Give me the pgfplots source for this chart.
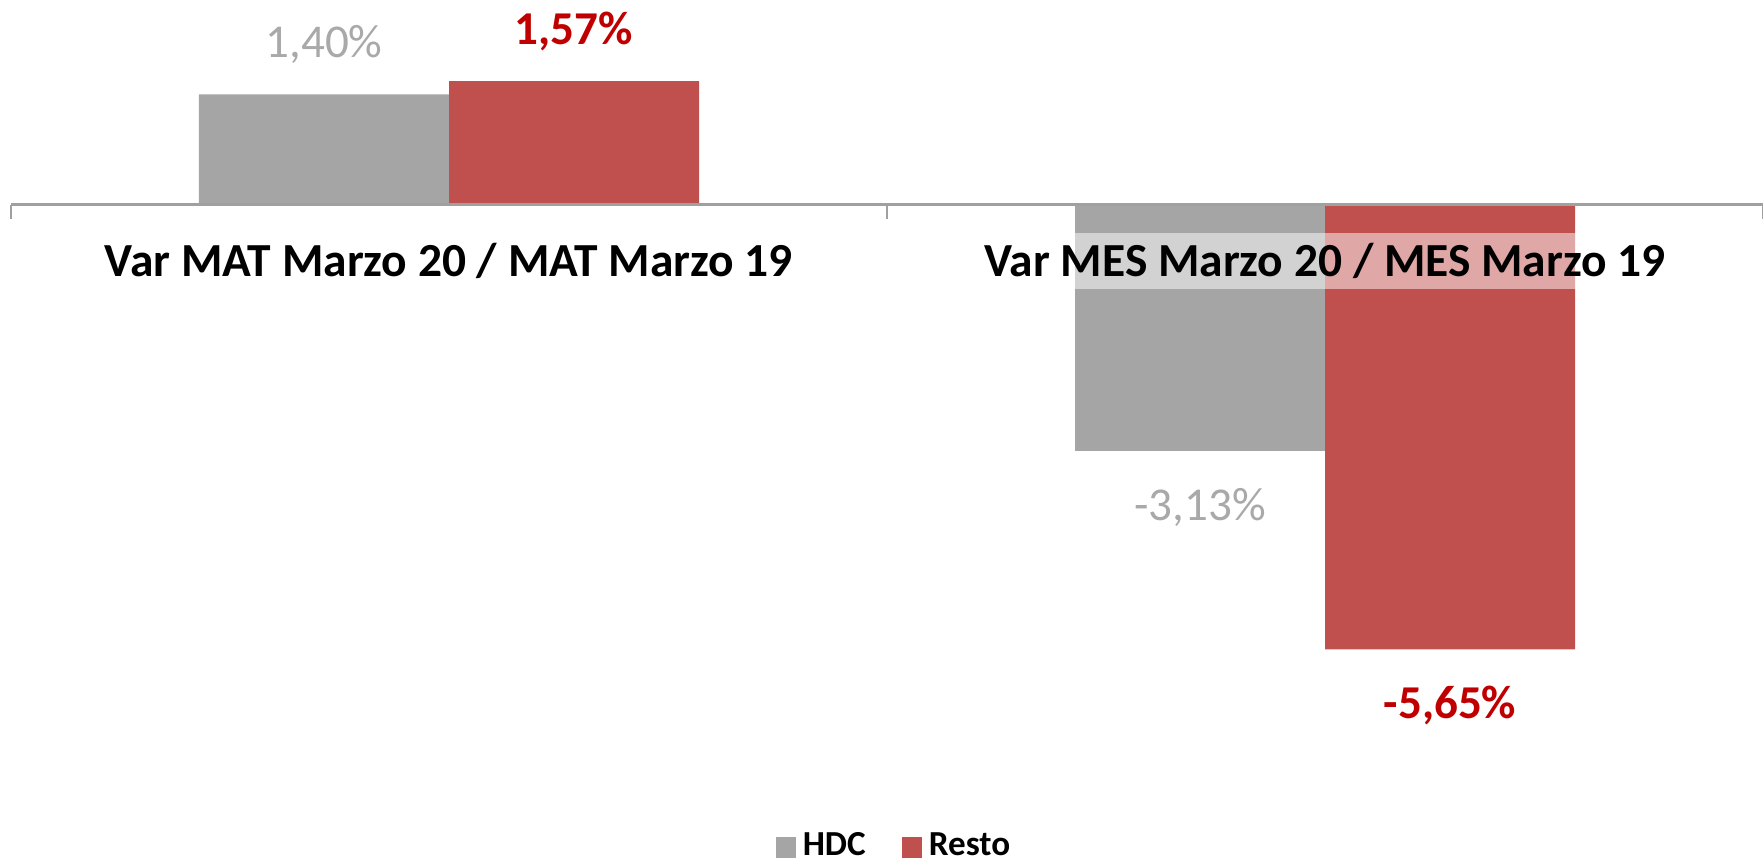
\documentclass[border=0pt]{standalone}
\usepackage{pgfplots}
\pgfplotsset{compat=1.18}
\usepackage{fontspec}
\setmainfont{Carlito}
\definecolor{hdc}{HTML}{A5A5A5}
\definecolor{resto}{HTML}{C0504D}
\definecolor{hdctext}{HTML}{A9A9A9}
\definecolor{restotext}{HTML}{C00000}
\definecolor{axisgray}{HTML}{A0A0A0}
\begin{document}
\begin{tikzpicture}
\begin{axis}[
  scale only axis, width=175.2mm, height=78mm,
  xmin=-0.5, xmax=1.5, ymin=-7.311, ymax=2.6,
  axis on top,
  axis x line=middle, axis y line=none,
  x axis line style={-, draw=axisgray, line width=0.7pt},
  ybar=0pt, bar width=25mm,
  xtick={0,1},
  xticklabels={Var MAT Marzo 20 / MAT Marzo 19, Var MES Marzo 20 / MES Marzo 19},
  major tick length=0pt,
  xticklabel style={anchor=north, yshift=-2.8mm, inner ysep=1.0mm, inner xsep=0.5mm,
    fill=white, fill opacity=0.5, text opacity=1,
    font=\bfseries\fontsize{13.5}{16}\selectfont},
  extra x ticks={-0.5,0.5,1.5}, extra x tick labels={},
  extra x tick style={major tick length=1.4mm, tick align=outside,
    tick style={draw=axisgray, line width=0.7pt}},
  visualization depends on={y \as \rawy},
  nodes near coords={\pgfmathprintnumber[fixed,fixed zerofill,precision=2,use comma,assume math mode=true]{\pgfplotspointmeta}\%},
  every node near coord/.append style={anchor=center, yshift={\rawy>0 ? 14.1pt : -16.1pt}},
  legend style={at={(0.5054,-0.086)}, anchor=center, draw=none, fill=none,
    font=\bfseries\fontsize{10}{12}\selectfont, legend columns=2,
    /tikz/every even column/.append style={column sep=2.9mm},
    inner sep=0pt},
  legend image code/.code={\fill[#1, draw=none] (0mm,-1.05mm) rectangle (2mm,1.05mm);},
]
\addplot[fill=hdc, draw=none,
  every node near coord/.append style={text=hdctext, font=\fontsize{13.4}{16}\selectfont}]
  coordinates {(0,1.40) (1,-3.13)};
\addplot[fill=resto, draw=none,
  every node near coord/.append style={text=restotext, font=\bfseries\fontsize{13.4}{16}\selectfont}]
  coordinates {(0,1.57) (1,-5.65)};
\legend{HDC, Resto}
\end{axis}
\pgfresetboundingbox
\path[use as bounding box] (-1.1mm,-8.2mm) rectangle (175.2mm,78mm);
\end{tikzpicture}
\end{document}
